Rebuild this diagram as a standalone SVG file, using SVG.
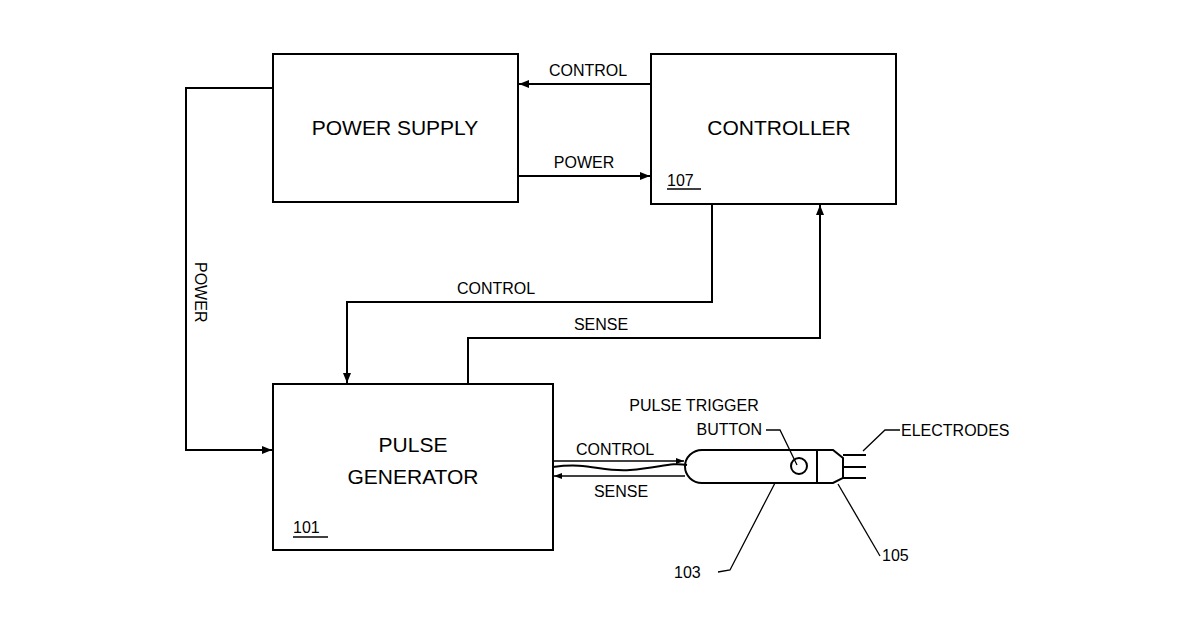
<svg xmlns="http://www.w3.org/2000/svg" width="1200" height="630" viewBox="0 0 1200 630">
<style>
.b{fill:#fff;stroke:#000;stroke-width:2}
.l{fill:none;stroke:#000;stroke-width:2}
.t{fill:none;stroke:#000;stroke-width:1.3}
text{font-family:"Liberation Sans",Arial,sans-serif;fill:#000}
.big{font-size:21px}
.sm{font-size:16px}
</style>
<defs>
<marker id="a" markerWidth="10" markerHeight="8" refX="10" refY="4" orient="auto" markerUnits="userSpaceOnUse"><path d="M0,0 L10,4 L0,8 Z" fill="#000"/></marker>
<marker id="s" markerWidth="8" markerHeight="6" refX="8" refY="3" orient="auto" markerUnits="userSpaceOnUse"><path d="M0,0 L8,3 L0,6 Z" fill="#000"/></marker>
</defs>
<rect width="1200" height="630" fill="#fff"/>
<g id="connectors">
<line class="l" x1="651" y1="84" x2="519" y2="84" marker-end="url(#a)"/>
<line class="l" x1="518" y1="176" x2="650" y2="176" marker-end="url(#a)"/>
<polyline class="l" points="273,88 186,88 186,450 272,450" marker-end="url(#a)"/>
<polyline class="l" points="712,204 712,302 347,302 347,383" marker-end="url(#a)"/>
<polyline class="l" points="468,384 468,338 820,338 820,205" marker-end="url(#a)"/>
<line class="t" x1="553" y1="461" x2="684" y2="461" marker-end="url(#s)"/>
<line class="t" x1="685" y1="476" x2="554" y2="476" marker-end="url(#s)"/>
<path class="l" d="M553,467 C590,462 600,472 630,470 C660,468 670,462 687,465"/>
</g>
<g id="power-supply"><rect class="b" x="273" y="54" width="245" height="148"/><text class="big" x="395" y="135" text-anchor="middle">POWER SUPPLY</text></g>
<g id="controller"><rect class="b" x="651" y="54" width="245" height="150"/><text class="big" x="779" y="135" text-anchor="middle">CONTROLLER</text><text class="sm" x="667" y="186">107</text><line class="t" x1="667" y1="189" x2="701" y2="189"/></g>
<g id="pulse-generator"><rect class="b" x="273" y="384" width="280" height="166"/><text class="big" x="413" y="452" text-anchor="middle">PULSE</text><text class="big" x="413" y="484" text-anchor="middle">GENERATOR</text><text class="sm" x="293" y="533">101</text><line class="t" x1="293" y1="537" x2="328" y2="537"/></g>
<g id="probe">
<path class="l" d="M702,450 L817,450 L833,450 L843,458 L843,478 L833,483 L817,483 L702,483 A17,16.5 0 0 1 702,450 Z" fill="#fff"/>
<line class="l" x1="817" y1="450" x2="817" y2="483"/>
<circle class="l" cx="799" cy="466" r="8"/>
<line class="l" x1="843" y1="455" x2="866" y2="455"/>
<line class="l" x1="843" y1="467" x2="866" y2="467"/>
<line class="l" x1="843" y1="478" x2="866" y2="478"/>
<polyline class="t" points="766,430 780,430 797,465"/>
<polyline class="t" points="863,451 885,430 900,430"/>
<polyline class="t" points="775,483 730,570 718,572"/>
<line class="t" x1="838" y1="484" x2="880" y2="556"/>
</g>
<g id="labels" class="sm">
<text x="588" y="76" text-anchor="middle">CONTROL</text>
<text x="584" y="168" text-anchor="middle">POWER</text>
<text x="496" y="294" text-anchor="middle">CONTROL</text>
<text x="601" y="330" text-anchor="middle">SENSE</text>
<text transform="translate(195,262) rotate(90)">POWER</text>
<text x="694" y="411" text-anchor="middle">PULSE TRIGGER</text>
<text x="762" y="435" text-anchor="end">BUTTON</text>
<text x="615" y="455" text-anchor="middle">CONTROL</text>
<text x="621" y="497" text-anchor="middle">SENSE</text>
<text x="901" y="436">ELECTRODES</text>
<text x="674" y="578">103</text>
<text x="882" y="561">105</text>
</g>
</svg>
